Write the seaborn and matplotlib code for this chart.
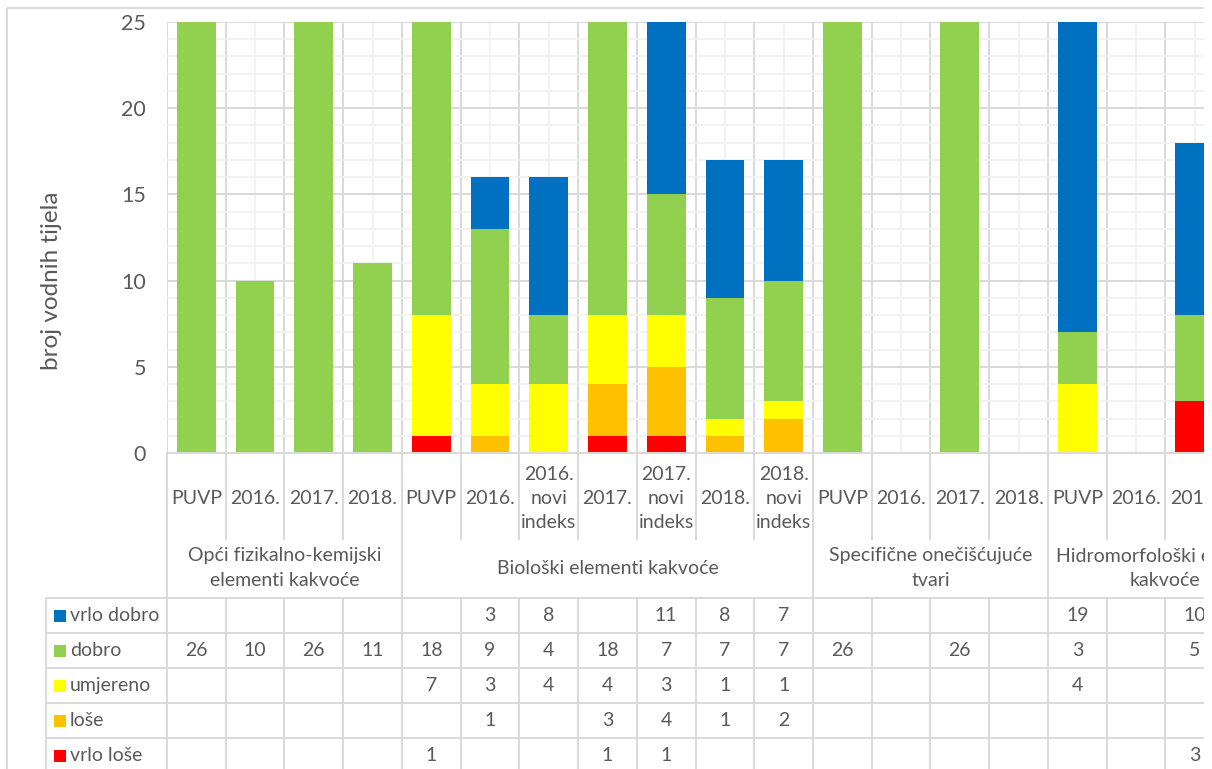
import numpy as np
import pandas as pd
import matplotlib
matplotlib.use("Agg")
import matplotlib.pyplot as plt
from matplotlib.patches import Rectangle
import seaborn as sns

categories = ["PUVP", "2016.", "2017.", "2018.",
              "PUVP", "2016.", "2016.\nnovi\nindeks", "2017.", "2017.\nnovi\nindeks",
              "2018.", "2018.\nnovi\nindeks",
              "PUVP", "2016.", "2017.", "2018.",
              "PUVP", "2016.", "2017.", "2018."]
groups = ["Opći fizikalno-kemijski\nelementi kakvoće", "Biološki elementi kakvoće",
          "Specifične onečišćujuće\ntvari", "Hidromorfološki elementi\nkakvoće"]
group_sizes = [4, 7, 4, 4]

vrlo_dobro = [None] * 5 + [3, 8, None, 11, 8, 7] + [None] * 4 + [19, None, 10, None]
dobro = [26, 10, 26, 11, 18, 9, 4, 18, 7, 7, 7, 26, None, 26, None, 3, None, 5, None]
umjereno = [None] * 4 + [7, 3, 4, 4, 3, 1, 1] + [None] * 4 + [4, None, None, None]
lose = [None] * 5 + [1, None, 3, 4, 1, 2] + [None] * 8
vrlo_lose = [None] * 4 + [1, None, None, 1, 1, None, None] + [None] * 6 + [3, None]

series = ["vrlo dobro", "dobro", "umjereno", "loše", "vrlo loše"]
colors = ["#0070C0", "#92D050", "#FFFF00", "#FFC000", "#FF0000"]

df = pd.DataFrame({"vrlo loše": vrlo_lose, "loše": lose, "umjereno": umjereno,
                   "dobro": dobro, "vrlo dobro": vrlo_dobro}, dtype=float)
cum = df.fillna(0).cumsum(axis=1)

sns.set_theme(style="white")
plt.rcParams["font.family"] = ["Lato", "DejaVu Sans"]
txt = "#595959"
grid_major = "#D9D9D9"
grid_minor = "#F0F0F0"
fs = 14

W, H = 1212, 769
fig = plt.figure(figsize=(W / 100, H / 100), dpi=100)

# plot area in pixels
left, top, bottom = 167, 22, 453
colw = 58.73
n = len(categories)
right = left + n * colw
ax = fig.add_axes([left / W, 1 - bottom / H, (right - left) / W, (bottom - top) / H])
ax.set_zorder(1)

pos = np.arange(n)
for name, c in zip(series, colors):
    sns.barplot(x=pos, y=cum[name].values, color=c, width=0.66, saturation=1,
                linewidth=0, ax=ax)

ax.set_xlim(-0.5, n - 0.5)
ax.set_ylim(0, 25)
ax.set_yticks(range(0, 26, 5))
ax.set_yticks(range(0, 26), minor=True)
ax.set_xticks(np.arange(-0.5, n, 1))
ax.set_xticks(pos, minor=True)
ax.grid(which="major", color=grid_major, lw=1.4)
ax.grid(which="minor", color=grid_minor, lw=1.2)
ax.set_axisbelow(True)
ax.tick_params(axis="x", which="both", length=0, labelbottom=False)
ax.tick_params(axis="y", which="both", length=0, pad=15, labelsize=15.5, labelcolor=txt)
ax.set_xlabel("")
ax.set_ylabel("")
for s in ["top", "right", "left"]:
    ax.spines[s].set_visible(False)
ax.spines["bottom"].set_color(grid_major)
ax.spines["bottom"].set_linewidth(1.4)

# overlay in pixel coordinates for table, labels and frame
tab = fig.add_axes([0, 0, 1, 1])
tab.set_zorder(2)
tab.patch.set_alpha(0)
tab.set_xlim(0, W)
tab.set_ylim(H, 0)
tab.axis("off")

def line(x0, y0, x1, y1):
    tab.plot([x0, x1], [y0, y1], color=grid_major, lw=1.4, solid_capstyle="butt")

# chart frame
line(7, 8, W, 8)
line(7, 8, 7, H)

tab.text(52, 281, "broj vodnih tijela", rotation=90, ha="center", va="center",
         fontsize=17.5, color=txt)

bx = [left + k * colw for k in range(n + 1)]
# category row
for x in bx:
    line(x, bottom, x, 540)
for k, lab in enumerate(categories):
    tab.text(left + (k + 0.5) * colw, 498, lab, ha="center", va="center",
             fontsize=fs, color=txt, linespacing=1.5)

# group row
edge = 0
for g, size in zip(groups, group_sizes):
    line(bx[edge], 540, bx[edge], 598)
    mid = (bx[edge] + bx[edge + size]) / 2
    tab.text(mid, 568, g, ha="center", va="center", fontsize=fs, color=txt,
             linespacing=1.5)
    edge += size
line(bx[edge], 540, bx[edge], 598)

# data table
row_y = [598, 633, 668, 703, 738, 773]
for y in row_y:
    line(46, y, W, y)
line(46, 598, 46, H)
for x in bx:
    line(x, 598, x, H)
for r, (name, c) in enumerate(zip(series, colors)):
    yc = (row_y[r] + row_y[r + 1]) / 2
    tab.add_patch(Rectangle((54, yc - 6), 12, 12, color=c, lw=0))
    tab.text(70, yc, name, ha="left", va="center", fontsize=fs, color=txt)
    for k, v in enumerate(df[name]):
        if pd.notna(v):
            tab.text(left + (k + 0.5) * colw, yc, f"{int(v)}", ha="center",
                     va="center", fontsize=fs, color=txt)

# blank margin at the right edge of the screenshot
tab.add_patch(Rectangle((1204, 0), W - 1204, H, color="white", lw=0, zorder=10))

fig.savefig("out.png", dpi=100)
